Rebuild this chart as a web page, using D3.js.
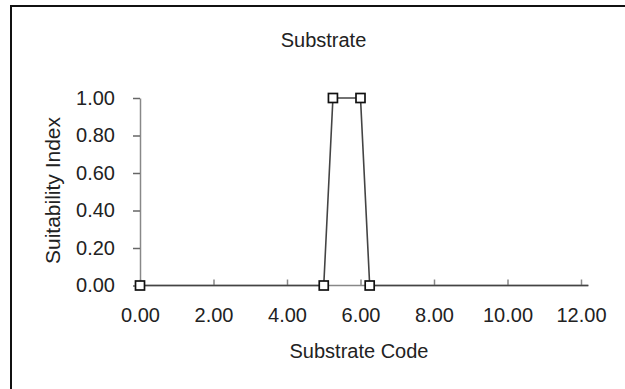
<!DOCTYPE html>
<html>
<head>
<meta charset="utf-8">
<script src="https://cdn.jsdelivr.net/npm/d3@7"></script>
<style>
  html, body { margin: 0; padding: 0; background: #fff; }
  svg { display: block; }
  text { font-family: "Liberation Sans", Arial, sans-serif; fill: #222; }
</style>
</head>
<body>
<svg id="chart" width="625" height="389"></svg>
<script>
// ---- data ----
const substrateCode = [0, 5, 5.25, 6, 6.25];
const suitability   = [0, 0, 1, 1, 0];
const tailCode = 12.2;          // series continues along 0 to the end of the axis (no marker)
const xTicks = [0, 2, 4, 6, 8, 10, 12];
const yTicks = [0, 0.2, 0.4, 0.6, 0.8, 1.0];
const chartTitle = "Substrate";
const xTitle = "Substrate Code";
const yTitle = "Suitability Index";

// ---- layout ----
const svg = d3.select("#chart");
const fs = 20;

// outer frame
svg.append("rect")
  .attr("x", 11).attr("y", 6).attr("width", 800).attr("height", 600)
  .attr("fill", "none").attr("stroke", "#111").attr("stroke-width", 2);

const x = d3.scaleLinear().domain([0, 12]).range([140, 581]);
const y = d3.scaleLinear().domain([0, 1]).range([285.5, 98]);

// y axis
const yAxis = d3.axisLeft(y).tickValues(yTicks).tickSize(7).tickSizeOuter(0)
  .tickFormat(d3.format(".2f")).tickPadding(18);
const gy = svg.append("g").attr("transform", `translate(${x(0)},0)`).call(yAxis);
gy.select(".domain").attr("stroke", "#888").attr("stroke-width", 1.5);
gy.selectAll(".tick line").attr("stroke", "#666").attr("stroke-width", 1.5);
gy.selectAll(".tick text").attr("font-size", fs).attr("fill", "#222")
  .attr("font-family", "Liberation Sans, Arial, sans-serif");

// x axis (ticks pointing up into plot)
const xAxis = d3.axisBottom(x).tickValues(xTicks).tickSize(-6).tickSizeOuter(0)
  .tickFormat(d3.format(".2f")).tickPadding(22);
const gx = svg.append("g").attr("transform", `translate(0,${y(0)})`).call(xAxis);
gx.select(".domain").attr("d", `M${x(0)},0H${x(tailCode)}`)
  .attr("stroke", "#888").attr("stroke-width", 1.5);
gx.selectAll(".tick line").attr("stroke", "#888").attr("stroke-width", 1.5);
gx.selectAll(".tick text").attr("font-size", fs).attr("fill", "#222")
  .attr("font-family", "Liberation Sans, Arial, sans-serif");

// series line
const pts = substrateCode.map((c, i) => [c, suitability[i]]);
const linePts = pts.concat([[tailCode, 0]]);
svg.append("path")
  .datum(linePts)
  .attr("fill", "none")
  .attr("stroke", "#444")
  .attr("stroke-width", 1.6)
  .attr("d", d3.line().x(d => x(d[0])).y(d => y(d[1])));

// markers
const ms = 9;
svg.selectAll("rect.marker")
  .data(pts)
  .enter().append("rect")
  .attr("class", "marker")
  .attr("x", d => x(d[0]) - ms / 2)
  .attr("y", d => y(d[1]) - ms / 2)
  .attr("width", ms).attr("height", ms)
  .attr("fill", "#fff").attr("stroke", "#111").attr("stroke-width", 1.7);

// titles
svg.append("text")
  .attr("x", 323.5).attr("y", 47)
  .attr("text-anchor", "middle").attr("font-size", fs)
  .text(chartTitle);

svg.append("text")
  .attr("x", 359).attr("y", 358)
  .attr("text-anchor", "middle").attr("font-size", fs)
  .text(xTitle);

svg.append("text")
  .attr("transform", `translate(60,190.5) rotate(-90)`)
  .attr("text-anchor", "middle").attr("font-size", 21)
  .text(yTitle);
</script>
</body>
</html>
